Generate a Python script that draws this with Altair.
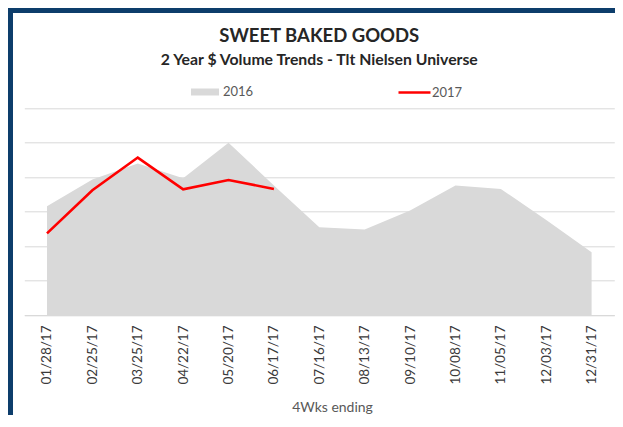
import altair as alt
import pandas as pd

# ---- data (index units, gridline = 1) ----
weeks = ["01/28/17", "02/25/17", "03/25/17", "04/22/17", "05/20/17", "06/17/17",
         "07/16/17", "08/13/17", "09/10/17", "10/08/17", "11/05/17", "12/03/17", "12/31/17"]
sales_2016 = [3.16, 3.93, 4.40, 3.97, 5.00, 3.76, 2.55, 2.48, 3.03, 3.76, 3.66, 2.76, 1.82]
sales_2017 = [2.37, 3.62, 4.57, 3.65, 3.92, 3.66]
years = ["2016", "2017"]

rows = []
for w, v in zip(weeks, sales_2016):
    rows.append({"week": w, "value": v, "year": years[0]})
for w, v in zip(weeks, sales_2017):
    rows.append({"week": w, "value": v, "year": years[1]})
df = pd.DataFrame(rows)

FONT = "Lato"
W, H = 590, 206.7

x_enc = alt.X(
    "week:O", sort=weeks,
    scale=alt.Scale(type="point", padding=0.5),
    axis=alt.Axis(
        title="4Wks ending", labelAngle=270, labelFont=FONT, labelFontSize=13.5,
        labelColor="#3a3a3a", labelPadding=10, ticks=False, grid=False,
        domainColor="#d9d9d9", domainWidth=1,
        titleFont=FONT, titleFontSize=14, titleFontWeight="normal", titleColor="#595959",
        titleX=307.7, titleY=97, titleAlign="center", titleBaseline="alphabetic",
    ),
)
y_enc = alt.Y(
    "value:Q",
    scale=alt.Scale(domain=[0, 6]),
    axis=alt.Axis(values=[0, 1, 2, 3, 4, 5, 6], labels=False, ticks=False, domain=False,
                  title=None, grid=True, gridColor="#d9d9d9", gridWidth=1),
)

area = alt.Chart(df).transform_filter(alt.datum.year == years[0]).mark_area(opacity=1).encode(
    x=x_enc, y=y_enc,
    fill=alt.Fill("year:N", scale=alt.Scale(domain=[years[0]], range=["#d9d9d9"]),
                  legend=alt.Legend(orient="none", legendX=166.7, legendY=-30.3, title=None,
                                    symbolType="M-1,-0.25H1V0.25H-1Z", symbolSize=784,
                                    symbolStrokeWidth=0, symbolOpacity=1,
                                    labelFont=FONT, labelFontSize=13, labelColor="#595959",
                                    labelOffset=4)),
)

line = alt.Chart(df).transform_filter(alt.datum.year == years[1]).mark_line(strokeWidth=2.6).encode(
    x=x_enc, y=y_enc,
    stroke=alt.Stroke("year:N", scale=alt.Scale(domain=[years[1]], range=["#ff0000"]),
                      legend=alt.Legend(orient="none", legendX=372.7, legendY=-33.3, title=None,
                                        symbolType="stroke", symbolSize=1024,
                                        symbolStrokeWidth=2.6,
                                        labelFont=FONT, labelFontSize=13, labelColor="#595959",
                                        labelOffset=0)),
)

# decorative navy frame (left and top edges of the picture)
frame_df = pd.DataFrame({"k": [0]})
left_bar = alt.Chart(frame_df).mark_rect(color="#0d3d6b").encode(
    x=alt.value(-16.3), x2=alt.value(-11.3), y=alt.value(-100.3), y2=alt.value(320))
top_bar = alt.Chart(frame_df).mark_rect(color="#0d3d6b").encode(
    x=alt.value(-16.3), x2=alt.value(W + 1), y=alt.value(-100.3), y2=alt.value(-95.3))

chart = alt.layer(area, line, left_bar, top_bar).properties(
    width=W, height=H,
    background="white",
    title=alt.TitleParams(
        text="SWEET BAKED GOODS",
        subtitle="2 Year $ Volume Trends - Tlt Nielsen Universe",
        anchor="middle", frame="group", offset=-60,
        font=FONT, fontSize=18.5, fontWeight="bold", color="#262626",
        subtitleFont=FONT, subtitleFontSize=15.8, subtitleFontWeight="bold",
        subtitleColor="#262626", subtitlePadding=8,
    ),
    autosize=alt.AutoSizeParams(type="none"),
    padding={"left": 16.3, "top": 100.3, "right": 0.5, "bottom": 100},
).configure_view(strokeWidth=0, stroke="transparent")

chart.save("out.html", embed_options={"renderer": "svg", "actions": False})
